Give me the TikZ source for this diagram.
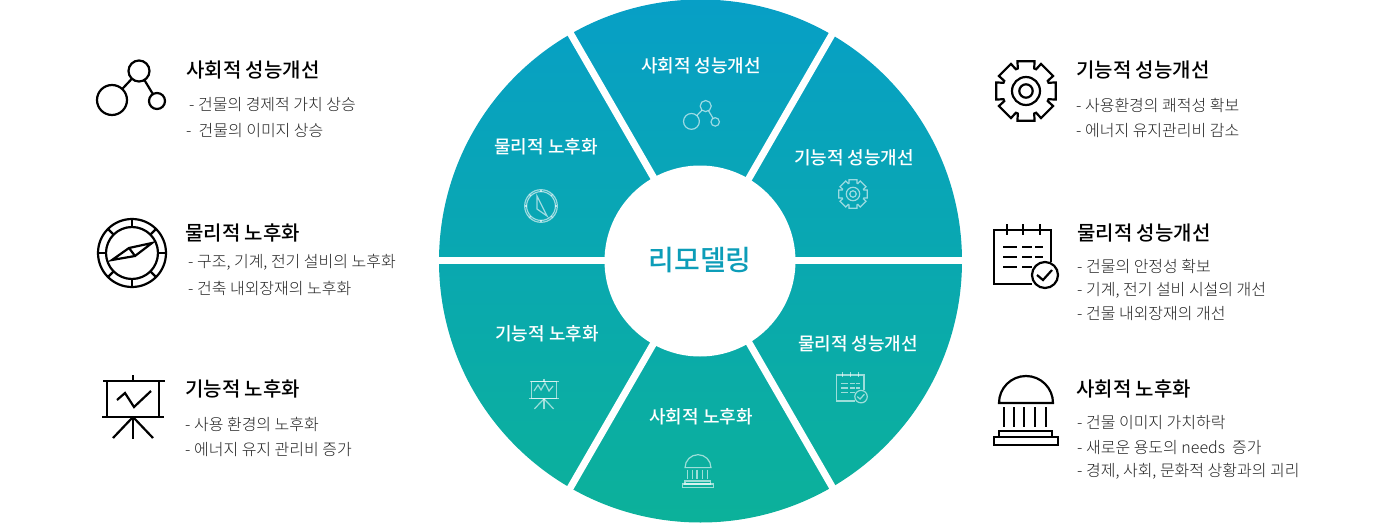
\documentclass[tikz,border=0pt]{standalone}
\usepackage{fontspec}
\setmainfont{Noto Sans CJK KR Light}[BoldFont={Noto Sans CJK KR Medium}]
\definecolor{wheeltop}{HTML}{079FC6}
\definecolor{wheelbot}{HTML}{0CB19A}
\definecolor{wheeltxt}{HTML}{0C9DB8}
\definecolor{bodytxt}{HTML}{222222}
\tikzset{
      itemtitle/.style={anchor=west, inner sep=0, font=\fontsize{20}{22}\selectfont\bfseries, text=black},
      itemtext/.style={anchor=west, inner sep=0, font=\fontsize{16}{18}\selectfont, text=bodytxt},
      sectortitle/.style={inner sep=0, font=\fontsize{18}{20}\selectfont\bfseries, text=white},
      bigicon/.style={draw=black, line width=2.2},
      smallline/.style={draw=white, draw opacity=.6, line width=1.2},
      smallicon/.style={smallline, scale=.48},
      gap/.style={draw=white, line width=7},
      pics/network/.style={code={
            \draw (-20,14) circle[radius=15];
            \draw (7,-15) circle[radius=10.5];
            \draw (25,15) circle[radius=8];
            \draw (-9.8,3) -- (-0.1,-7.3);
            \draw (12.4,-6) -- (20.9,8.1);
      }},
      pics/compassring/.style={code={
            \draw (0,0) circle[radius=34];
            \draw (0,0) circle[radius=#1];
            \foreach \a in {0,45,...,315} \draw (\a:#1) -- (\a:34);
      }},
      pics/board/.style={code={
            \draw (-26,-26) rectangle (26,10);
            \draw (-30,-26) -- (32,-26);
            \draw (-31,10) -- (31,10);
            \draw (0,-32) -- (0,-26);
            \draw (0,10) -- (0,32);
            \draw (0,10) -- (-20,31);
            \draw (0,10) -- (20,31);
      }},
      pics/gear/.style={code={
            \draw (-16:31)
                  \foreach \a in {0,45,...,315} {
                        -- (\a-16:31) -- (\a+16:31) -- (\a+20:24) -- (\a+25:24)
                  } -- cycle;
            \draw (0,0) circle[radius=14];
            \draw (0,0) circle[radius=6.7];
      }},
      pics/calendar/.style={code={
            \draw (29,5) -- (29,-27) -- (-28,-27) -- (-28,27) -- (10,27);
            \foreach \x in {-15,1,18} \draw (\x,-33) -- (\x,-22);
            \foreach \y in {-10,0,10} {
                  \draw (-19,\y) -- (-5,\y);
                  \draw (0,\y) -- (10,\y);
            }
            \draw (13,-10) -- (21,-10);
            \draw (13,0) -- (21,0);
            \draw (23,18) circle[radius=13];
            \draw (15,18) -- (21,23) -- (30,13);
      }},
      pics/dome/.style={code={
            \draw (-27,-7) arc[start angle=180, end angle=360, radius=27] -- cycle;
            \foreach \x in {-22,-12,-2,9,20} \draw (\x,-3) -- (\x,17);
            \draw (-27,21) rectangle (26,27);
            \draw (-32,27) rectangle (32,35);
      }},
}
\begin{document}
\begin{tikzpicture}[x=1pt,y=-1pt]
      \useasboundingbox (0,0) rectangle (1400,524);

      % wheel
      \shade[top color=wheeltop, bottom color=wheelbot] (700.5,261) circle[radius=261.5];
      \coordinate (hub) at (701.5,260.5);
      \draw[gap] (hub) ++(0:270) -- ++(180:540);
      \draw[gap] (hub) ++(60:270) -- ++(240:540);
      \draw[gap] (hub) ++(120:270) -- ++(300:540);
      \fill[white] (700,261) circle[radius=95.5];
      \node[inner sep=0, font=\fontsize{28}{30}\selectfont\bfseries, text=wheeltxt] (hubtitle) at (700,260) {리모델링};

      \node[sectortitle] (sec1) at (701,66) {사회적 성능개선};
      \node[sectortitle] (sec2) at (854,158) {기능적 성능개선};
      \node[sectortitle] (sec3) at (858,344) {물리적 성능개선};
      \node[sectortitle] (sec4) at (701,417) {사회적 노후화};
      \node[sectortitle] (sec5) at (547,334) {기능적 노후화};
      \node[sectortitle] (sec6) at (546,147) {물리적 노후화};

      % small icons
      \pic[smallicon, scale=1.1] at (702,114) {network};
      \pic[smallicon] at (853,194) {gear};
      \pic[smallicon] at (850,388) {calendar};
      \pic[smallicon] at (698,471) {dome};
      \pic[smallicon] at (544,394) {board};
      \draw[smallline] (534,391) -- (538,385) -- (541,390) -- (545,383) -- (549,391) -- (553,386);
      \pic[smallicon] at (541,206) {compassring=30};
      \draw[smallline] (537,196) -- (547,216) -- (537,209) -- cycle;

      % left column
      \pic[bigicon] at (132,86) {network};
      \node[itemtitle] (t1) at (186,70) {사회적 성능개선};
      \node[itemtext] (t1a) at (189,105) {- 건물의 경제적 가치 상승};
      \node[itemtext] (t1b) at (186,131) {-\ \ 건물의 이미지 상승};

      \pic[bigicon] at (132,253) {compassring=26};
      \draw[bigicon] (152,243) -- (129,248) -- (112,260) -- (135,256) -- cycle;
      \draw[bigicon] (129,248) -- (135,256);
      \node[itemtitle] (t2) at (185,233) {물리적 노후화};
      \node[itemtext] (t2a) at (188,262) {- 구조, 기계, 전기 설비의 노후화};
      \node[itemtext] (t2b) at (188,288) {- 건축 내외장재의 노후화};

      \pic[bigicon] at (133,407) {board};
      \draw[bigicon] (117,400) -- (125,393) -- (134,407) -- (151,391);
      \node[itemtitle] (t3) at (185,389) {기능적 노후화};
      \node[itemtext] (t3a) at (185,424) {- 사용 환경의 노후화};
      \node[itemtext] (t3b) at (185,450) {- 에너지 유지 관리비 증가};

      % right column
      \pic[bigicon] at (1026,91) {gear};
      \node[itemtitle] (t4) at (1076,70) {기능적 성능개선};
      \node[itemtext] (t4a) at (1076,105) {- 사용환경의 쾌적성 확보};
      \node[itemtext] (t4b) at (1076,131) {- 에너지 유지관리비 감소};

      \pic[bigicon] at (1022,257) {calendar};
      \node[itemtitle] (t5) at (1077,233) {물리적 성능개선};
      \node[itemtext] (t5a) at (1077,266) {- 건물의 안정성 확보};
      \node[itemtext] (t5b) at (1077,290) {- 기계, 전기 설비 시설의 개선};
      \node[itemtext] (t5c) at (1077,314) {- 건물 내외장재의 개선};

      \pic[bigicon] at (1026,410) {dome};
      \node[itemtitle] (t6) at (1076,389) {사회적 노후화};
      \node[itemtext] (t6a) at (1077,423) {- 건물 이미지 가치하락};
      \node[itemtext] (t6b) at (1077,448) {- 새로운 용도의 needs\ \ 증가};
      \node[itemtext] (t6c) at (1077,471) {- 경제, 사회, 문화적 상황과의 괴리};

\end{tikzpicture}
\end{document}
